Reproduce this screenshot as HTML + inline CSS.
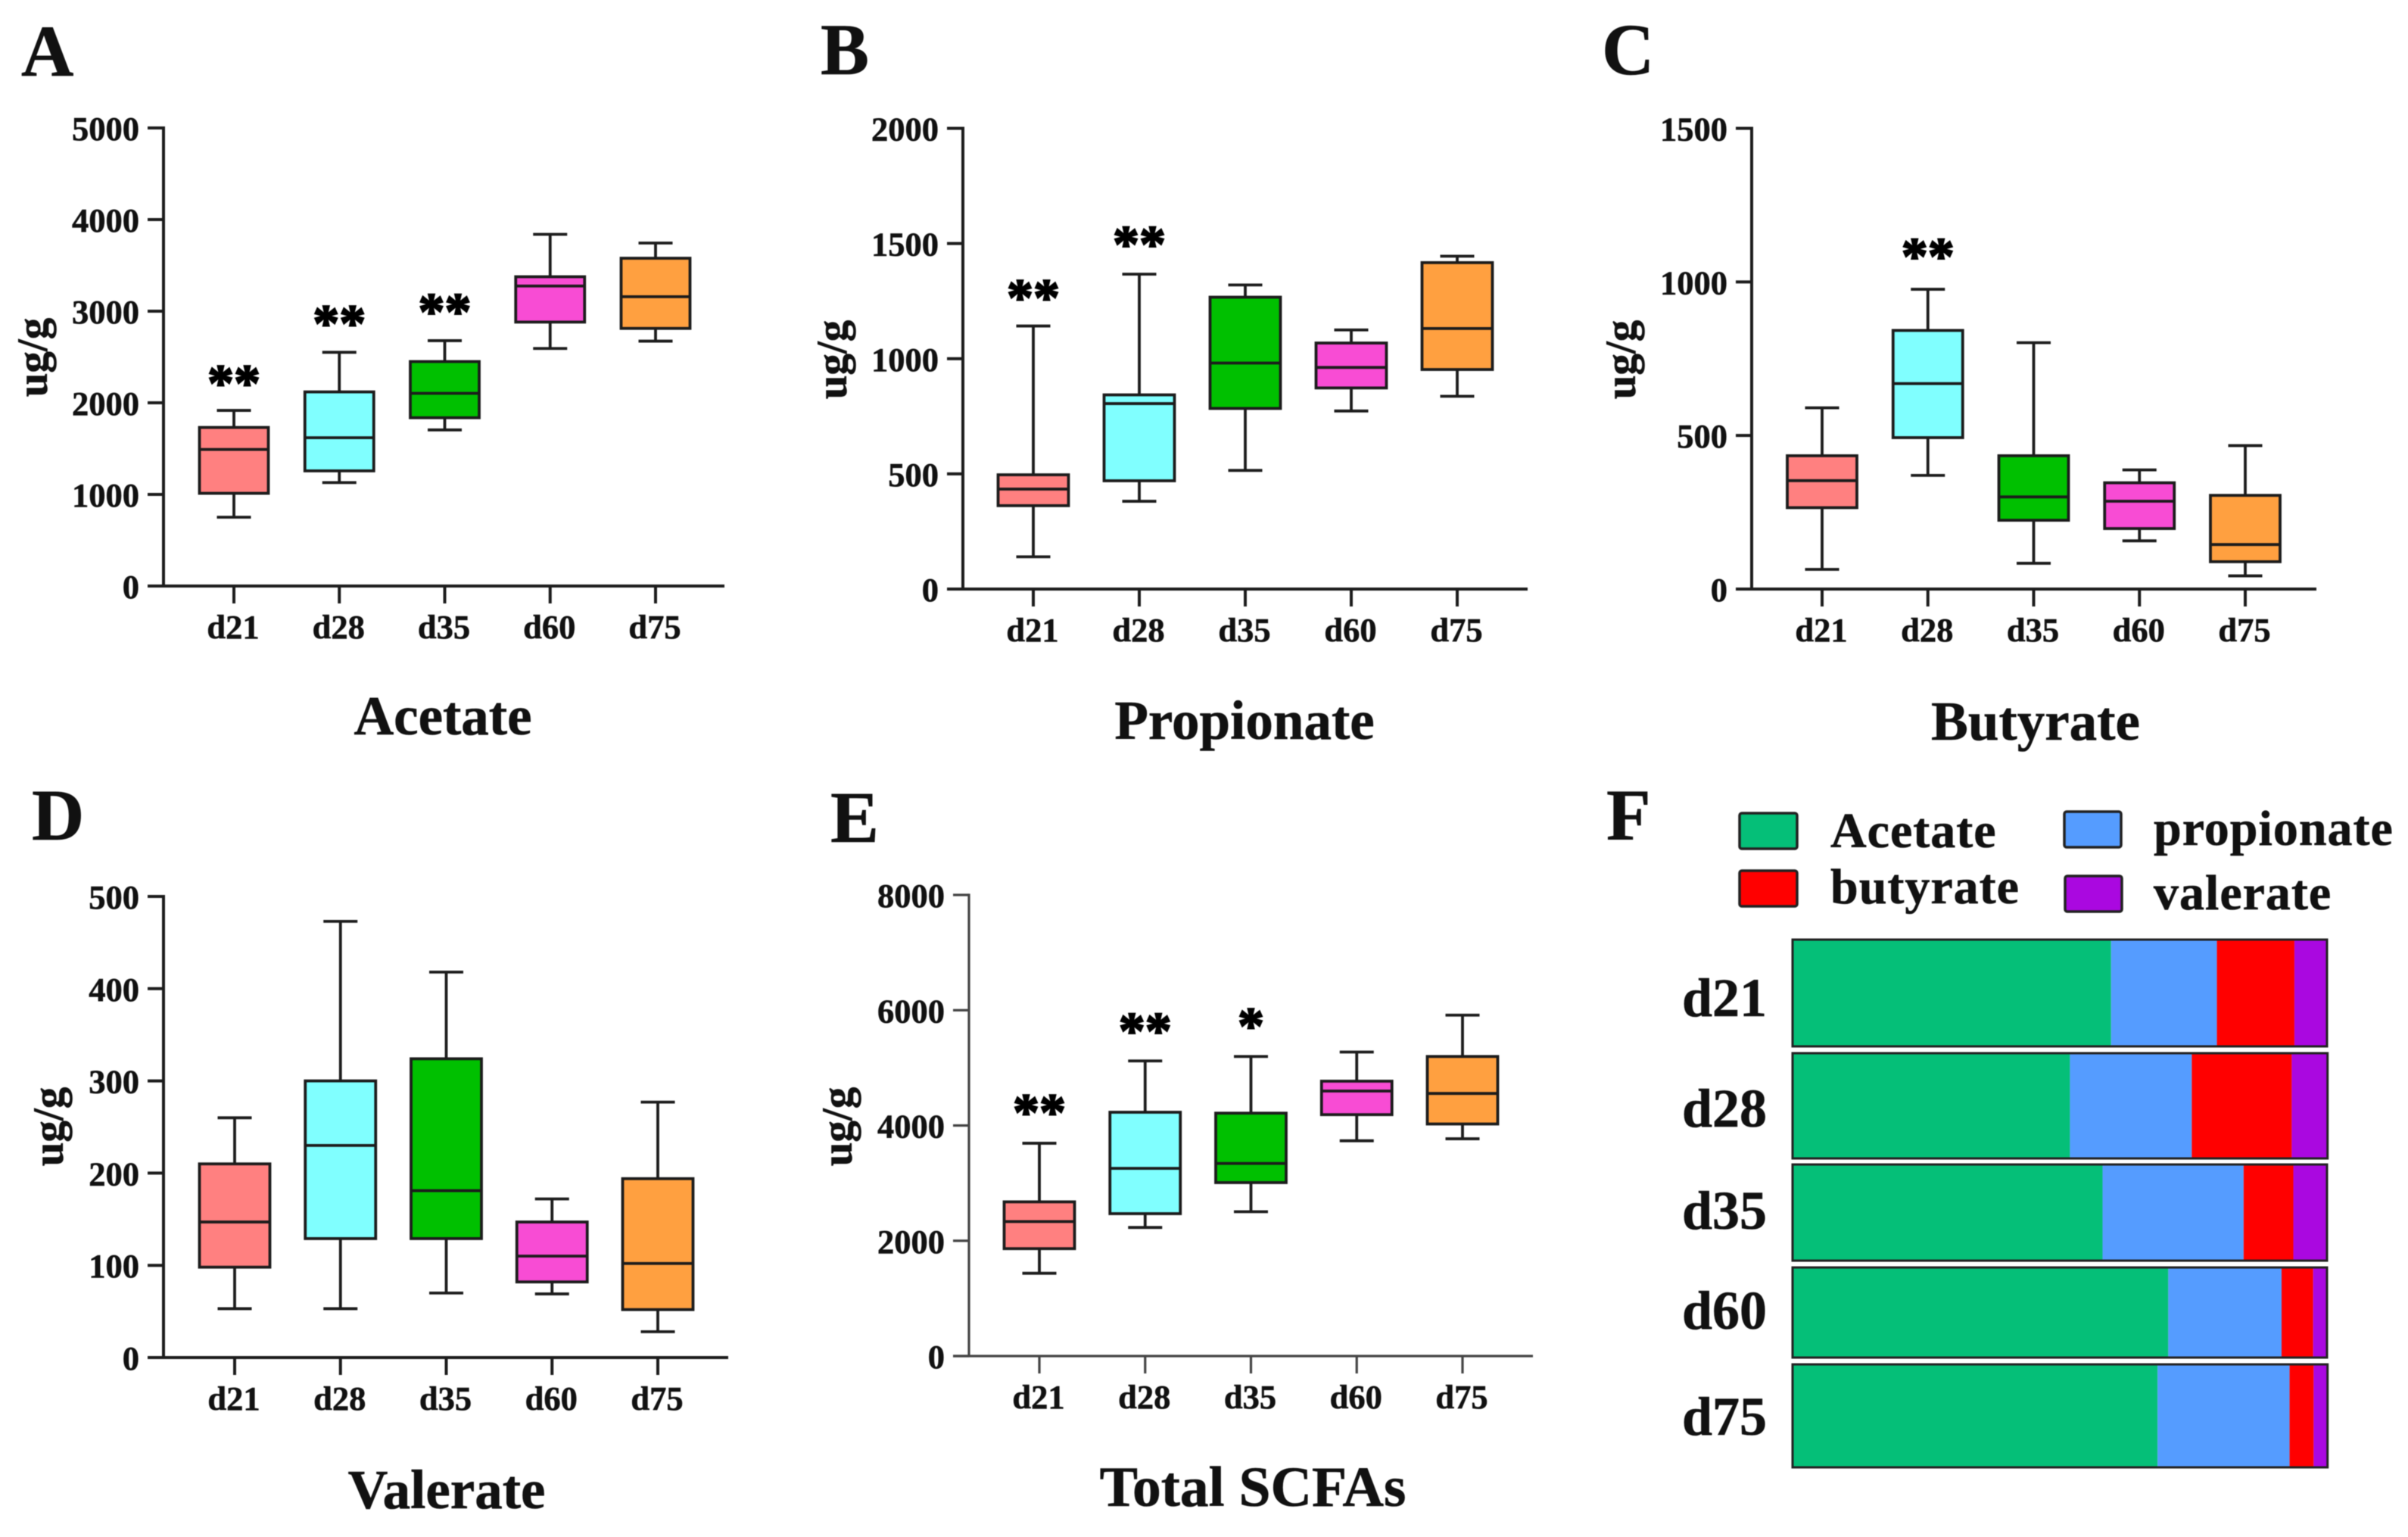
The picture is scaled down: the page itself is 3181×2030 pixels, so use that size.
<!DOCTYPE html>
<html lang="en">
<head>
<meta charset="utf-8">
<title>Short-chain fatty acid concentrations by day</title>
<style>
  html, body { margin: 0; padding: 0; background: #fff; }
  svg { display: block; filter: blur(0.6px); }
  text { font-family: "Liberation Serif", serif; font-weight: bold; fill: #111; stroke: #111; stroke-width: 0.6px; }
  .panel-letter { font-size: 96px; }
  .chart-title { font-size: 73px; text-anchor: middle; }
  .chart-title-wide { font-size: 75.5px; }
  .unit-label { font-size: 57px; text-anchor: middle; }
  .tick-label { font-size: 44.5px; }
  .legend-label { font-size: 66px; letter-spacing: 1px; }
  .row-label { font-size: 72px; text-anchor: end; }
  .star { font-size: 70px; text-anchor: middle; fill: #000; stroke: #000; stroke-width: 2px; }
</style>
</head>
<body>
<svg id="figure" xmlns="http://www.w3.org/2000/svg" width="3181" height="2030" viewBox="0 0 3181 2030">
  <rect x="-5" y="-5" width="3191" height="2040" fill="#ffffff"/>

  <g id="panel-a">
    <text class="panel-letter" x="28" y="100">A</text>
    <text class="chart-title" x="585" y="970">Acetate</text>
    <text class="unit-label" transform="translate(62,472) rotate(-90)">ug/g</text>
  </g>
  <g id="panel-b">
    <text class="panel-letter" x="1084" y="98">B</text>
    <text class="chart-title" x="1644" y="976">Propionate</text>
    <text class="unit-label" transform="translate(1118,475) rotate(-90)">ug/g</text>
  </g>
  <g id="panel-c">
    <text class="panel-letter" x="2116" y="98">C</text>
    <text class="chart-title" x="2689" y="977">Butyrate</text>
    <text class="unit-label" transform="translate(2160,475) rotate(-90)">ug/g</text>
  </g>
  <g id="panel-d">
    <text class="panel-letter" x="42" y="1109">D</text>
    <text class="chart-title" x="590" y="1992">Valerate</text>
    <text class="unit-label" transform="translate(83,1488) rotate(-90)">ug/g</text>
  </g>
  <g id="panel-e">
    <text class="panel-letter" x="1097" y="1112">E</text>
    <text class="chart-title chart-title-wide" x="1655" y="1989">Total SCFAs</text>
    <text class="unit-label" transform="translate(1125,1488) rotate(-90)">ug/g</text>
  </g>
  <g id="panel-f">
    <text class="panel-letter" x="2122" y="1109">F</text>
    <g>
      <rect x="2298" y="1074" width="76" height="47" rx="3" fill="#05BF78" stroke="#222" stroke-width="3.5"/>
      <text class="legend-label" x="2418" y="1119">Acetate</text>
      <rect x="2727" y="1072" width="75" height="47" rx="3" fill="#559CFF" stroke="#222" stroke-width="3.5"/>
      <text class="legend-label" x="2845" y="1116">propionate</text>
      <rect x="2298" y="1150" width="76" height="47" rx="3" fill="#FF0000" stroke="#222" stroke-width="3.5"/>
      <text class="legend-label" x="2418" y="1193">butyrate</text>
      <rect x="2728" y="1157" width="75" height="47" rx="3" fill="#AA08E0" stroke="#222" stroke-width="3.5"/>
      <text class="legend-label" x="2845" y="1201">valerate</text>
    </g>
  </g>
</svg>

<script>
// ---- Shared categories ----
const categories = ['d21', 'd28', 'd35', 'd60', 'd75'];

// ---- A: Acetate ----
const acetateTicks = [0, 1000, 2000, 3000, 4000, 5000];
const acetateLow = [751, 1129, 1704, 2593, 2673];
const acetateQ1 = [1012, 1257, 1837, 2881, 2812];
const acetateMedian = [1491, 1619, 2103, 3275, 3158];
const acetateQ3 = [1731, 2119, 2450, 3376, 3578];
const acetateHigh = [1917, 2551, 2678, 3839, 3744];
const acetateStars = ['**', '**', '**', '', ''];
const acetateStarLevels = [2268, 2923, 3051, null, null];

// ---- B: Propionate ----
const propionateTicks = [0, 500, 1000, 1500, 2000];
const propionateLow = [140, 381, 515, 773, 837];
const propionateQ1 = [362, 470, 784, 873, 953];
const propionateMedian = [434, 805, 981, 962, 1131];
const propionateQ3 = [496, 843, 1267, 1068, 1417];
const propionateHigh = [1142, 1367, 1320, 1125, 1445];
const propionateStars = ['**', '**', '', '', ''];
const propionateStarLevels = [1286, 1519, null, null, null];

// ---- C: Butyrate ----
const butyrateTicks = [0, 500, 1000, 1500];
const butyrateLow = [64, 370, 84, 157, 43];
const butyrateQ1 = [265, 493, 224, 197, 89];
const butyrateMedian = [353, 669, 300, 286, 145];
const butyrateQ3 = [434, 842, 434, 346, 305];
const butyrateHigh = [590, 976, 802, 388, 467];
const butyrateStars = ['', '**', '', '', ''];
const butyrateStarLevels = [null, 1100, null, null, null];

// ---- D: Valerate ----
const valerateTicks = [0, 100, 200, 300, 400, 500];
const valerateLow = [53, 53, 70, 69, 28];
const valerateQ1 = [98, 129, 129, 82, 52];
const valerateMedian = [147, 230, 181, 110, 102];
const valerateQ3 = [210, 300, 324, 147, 194];
const valerateHigh = [260, 473, 418, 172, 277];
const valerateStars = ['', '', '', '', ''];
const valerateStarLevels = [null, null, null, null, null];

// ---- E: Total SCFAs ----
const totalTicks = [0, 2000, 4000, 6000, 8000];
const totalLow = [1436, 2231, 2504, 3735, 3769];
const totalQ1 = [1863, 2470, 3009, 4188, 4026];
const totalMedian = [2333, 3256, 3342, 4598, 4556];
const totalQ3 = [2675, 4230, 4214, 4769, 5197];
const totalHigh = [3692, 5120, 5197, 5274, 5915];
const totalStars = ['**', '**', '*', '', ''];
const totalStarLevels = [4316, 5726, 5812, null, null];

// ---- F: Composition (percent of total) ----
const shareAcetate = [59.6, 51.9, 58.0, 70.3, 68.3];
const sharePropionate = [19.8, 22.8, 26.4, 21.2, 24.7];
const shareButyrate = [14.5, 18.7, 9.3, 5.9, 4.5];
const shareValerate = [6.1, 6.7, 6.3, 2.6, 2.6];

const NS = 'http://www.w3.org/2000/svg';
const boxColors = ['#FF8080', '#80FFFF', '#00C000', '#F84CD4', '#FFA040'];
const LINE = '#1c1c1c';
const MARK_WIDTH = 3.8;

function mk(parent, tag, attrs, text) {
  const el = document.createElementNS(NS, tag);
  for (const k in attrs) el.setAttribute(k, attrs[k]);
  if (text !== undefined) el.textContent = text;
  parent.appendChild(el);
  return el;
}

function drawBoxPanel(panelId, prefix, frame, ticks, low, q1, median, q3, high, stars, starLevels) {
  const parent = document.getElementById(panelId);
  const yMax = ticks[ticks.length - 1];
  const yScale = v => frame.y0 - (v / yMax) * (frame.y0 - frame.yTop);
  const xScale = i => frame.x0 + i * frame.step;
  const lw = frame.lineWidth;

  const yAxis = mk(parent, 'line', {x1: frame.axisX, x2: frame.axisX, y1: yScale(yMax) - lw / 2, y2: frame.y0, stroke: frame.axisColor, 'stroke-width': lw});
  
  

  const xAxis = mk(parent, 'line', {x1: frame.axisX - 21, x2: frame.xEnd, y1: frame.y0, y2: frame.y0, stroke: frame.axisColor, 'stroke-width': lw});
  
  

  ticks.forEach(t => {
    const y = yScale(t);
    const mark = mk(parent, 'line', {x1: frame.axisX - 21, x2: frame.axisX, y1: y, y2: y, stroke: frame.axisColor, 'stroke-width': lw});
    
    
    const label = mk(parent, 'text', {class: 'tick-label', x: frame.axisX - 32, y: y + 16, 'text-anchor': 'end'}, String(t));
    
    
  });

  categories.forEach((cat, i) => {
    const x = xScale(i);
    const mark = mk(parent, 'line', {x1: x, x2: x, y1: frame.y0, y2: frame.y0 + 23, stroke: frame.axisColor, 'stroke-width': lw});
    
    
    const label = mk(parent, 'text', {class: 'tick-label', x: x - 1, y: frame.y0 + 69, 'text-anchor': 'middle'}, cat);
    
    

    const whisker = mk(parent, 'line', {x1: x, x2: x, y1: yScale(high[i]), y2: yScale(low[i]), stroke: LINE, 'stroke-width': MARK_WIDTH});
    
    

    const capHigh = mk(parent, 'line', {x1: x - 22.5, x2: x + 22.5, y1: yScale(high[i]), y2: yScale(high[i]), stroke: LINE, 'stroke-width': MARK_WIDTH});
    
    

    const capLow = mk(parent, 'line', {x1: x - 22.5, x2: x + 22.5, y1: yScale(low[i]), y2: yScale(low[i]), stroke: LINE, 'stroke-width': MARK_WIDTH});
    
    

    const box = mk(parent, 'rect', {x: x - frame.boxWidth / 2, y: yScale(q3[i]), width: frame.boxWidth, height: yScale(q1[i]) - yScale(q3[i]), fill: boxColors[i], stroke: LINE, 'stroke-width': MARK_WIDTH});
    
    

    const med = mk(parent, 'line', {x1: x - frame.boxWidth / 2, x2: x + frame.boxWidth / 2, y1: yScale(median[i]), y2: yScale(median[i]), stroke: LINE, 'stroke-width': MARK_WIDTH});
    
    

    if (stars[i]) {
      const star = mk(parent, 'text', {class: 'star', x: x, y: yScale(starLevels[i]) + 30}, stars[i]);
      
      
    }
  });
}

const frameA = {axisX: 216, y0: 774, yTop: 169, xEnd: 957, x0: 309, step: 139.25, boxWidth: 91, lineWidth: 4, axisColor: LINE};
const frameB = {axisX: 1272, y0: 778, yTop: 169.5, xEnd: 2018, x0: 1365, step: 140, boxWidth: 93, lineWidth: 4, axisColor: LINE};
const frameC = {axisX: 2314, y0: 778, yTop: 169.5, xEnd: 3060, x0: 2407, step: 139.75, boxWidth: 92, lineWidth: 4, axisColor: LINE};
const frameD = {axisX: 216, y0: 1793, yTop: 1184, xEnd: 962, x0: 310, step: 139.75, boxWidth: 93, lineWidth: 4, axisColor: LINE};
const frameE = {axisX: 1280, y0: 1791, yTop: 1182, xEnd: 2025, x0: 1373, step: 139.75, boxWidth: 93, lineWidth: 3.2, axisColor: '#444444'};

drawBoxPanel('panel-a', 'acetate', frameA, acetateTicks, acetateLow, acetateQ1, acetateMedian, acetateQ3, acetateHigh, acetateStars, acetateStarLevels);
drawBoxPanel('panel-b', 'propionate', frameB, propionateTicks, propionateLow, propionateQ1, propionateMedian, propionateQ3, propionateHigh, propionateStars, propionateStarLevels);
drawBoxPanel('panel-c', 'butyrate', frameC, butyrateTicks, butyrateLow, butyrateQ1, butyrateMedian, butyrateQ3, butyrateHigh, butyrateStars, butyrateStarLevels);
drawBoxPanel('panel-d', 'valerate', frameD, valerateTicks, valerateLow, valerateQ1, valerateMedian, valerateQ3, valerateHigh, valerateStars, valerateStarLevels);
drawBoxPanel('panel-e', 'total-scfas', frameE, totalTicks, totalLow, totalQ1, totalMedian, totalQ3, totalHigh, totalStars, totalStarLevels);

// ---- Panel F stacked bars ----
function drawComposition() {
  const parent = document.getElementById('panel-f');
  const frame = {left: 2368, right: 3074, labelX: 2334};
  const bandTop = {d21: 1241, d28: 1391, d35: 1538, d60: 1674, d75: 1802};
  const bandHeight = {d21: 141, d28: 139, d35: 127, d60: 119, d75: 136};
  const labelOffset = {d21: 101, d28: 97, d35: 85, d60: 81, d75: 93};
  const xShare = v => frame.left + (v / 100) * (frame.right - frame.left);
  const series = [
    {key: 'acetate', values: shareAcetate, color: '#05BF78'},
    {key: 'propionate', values: sharePropionate, color: '#559CFF'},
    {key: 'butyrate', values: shareButyrate, color: '#FF0000'},
    {key: 'valerate', values: shareValerate, color: '#AA08E0'}
  ];
  categories.forEach((cat, i) => {
    const top = bandTop[cat];
    const h = bandHeight[cat];
    let cum = 0;
    series.forEach(s => {
      const seg = mk(parent, 'rect', {x: xShare(cum), y: top, width: xShare(cum + s.values[i]) - xShare(cum), height: h, fill: s.color});
      
      
      cum += s.values[i];
    });
    const outline = mk(parent, 'rect', {x: frame.left, y: top, width: xShare(cum) - frame.left, height: h, fill: 'none', stroke: '#222222', 'stroke-width': 3});
    
    
    const label = mk(parent, 'text', {class: 'row-label', x: frame.labelX, y: top + labelOffset[cat]}, cat);
    
    
  });
}
drawComposition();
</script>
</body>
</html>
